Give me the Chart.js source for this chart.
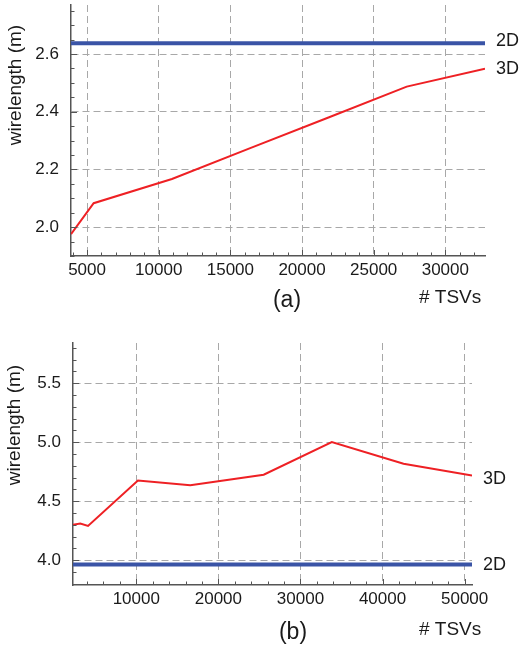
<!DOCTYPE html>
<html>
<head>
<meta charset="utf-8">
<script src="https://cdn.jsdelivr.net/npm/chart.js@4"></script>
<style>
  body { margin: 0; background: #fff; }
  canvas { display: block; }
</style>
</head>
<body>
<canvas id="chartA" width="524" height="325"></canvas>
<canvas id="chartB" width="524" height="326"></canvas>
<script>
// (a) wirelength vs number of TSVs
const tsvA = [3880, 5461, 10923, 16384, 21845, 27307, 32768];
const wl3dA = [1.976, 2.083, 2.167, 2.274, 2.380, 2.487, 2.549];
const wl2dA = 2.637;
const xTicksA = [5000, 10000, 15000, 20000, 25000, 30000];
const yTicksA = [2.0, 2.2, 2.4, 2.6];

// (b)
const tsvB = [2290, 3180, 4120, 10200, 16580, 25520, 33820, 42560, 50900];
const wl3dB = [4.30, 4.31, 4.29, 4.675, 4.636, 4.724, 5.0, 4.817, 4.718];
const wl2dB = 3.963;
const xTicksB = [10000, 20000, 30000, 40000, 50000];
const yTicksB = [4.0, 4.5, 5.0, 5.5];

const FONT = "'Liberation Sans', Arial, Helvetica, sans-serif";
const TEXT = '#1a1a1a';
const RED = '#ee2024';
const BLUE = '#3a54a6';
const AXIS = '#555';

Chart.defaults.font.family = FONT;
Chart.defaults.color = TEXT;

// draws the small inward tick marks, the axis title, caption and series labels
const decorPlugin = {
    id: 'decor',
    afterDraw(chart, args, opts) {
        const ctx = chart.ctx;
        const x = chart.scales.x;
        const y = chart.scales.y;
        const area = chart.chartArea;

        ctx.save();
        ctx.strokeStyle = AXIS;
        ctx.lineWidth = 1;
        // x ticks
        for (let v = Math.ceil(x.min / opts.xMinor) * opts.xMinor; v <= x.max; v += opts.xMinor) {
            const px = Math.round(x.getPixelForValue(v)) + 0.5;
            const len = v % opts.xMajor === 0 ? 6 : 3.5;
            ctx.beginPath();
            ctx.moveTo(px, area.bottom);
            ctx.lineTo(px, area.bottom - len);
            ctx.stroke();
        }
        // y ticks
        const start = Math.ceil(y.min / opts.yMinor - 1e-6);
        for (let i = start; i * opts.yMinor <= y.max + 1e-9; i++) {
            const v = i * opts.yMinor;
            const py = Math.round(y.getPixelForValue(v)) + 0.5;
            const isMajor = Math.abs(v / opts.yMajor - Math.round(v / opts.yMajor)) < 1e-6;
            ctx.beginPath();
            ctx.moveTo(area.left, py);
            ctx.lineTo(area.left + (isMajor ? 6 : 3.5), py);
            ctx.stroke();
        }

        ctx.fillStyle = TEXT;
        // y title
        ctx.save();
        ctx.translate(opts.titleX, opts.titleY);
        ctx.rotate(-Math.PI / 2);
        ctx.font = '19px ' + FONT;
        ctx.textAlign = 'center';
        ctx.textBaseline = 'middle';
        ctx.fillText('wirelength (m)', 0, 0);
        ctx.restore();

        // caption and x title
        ctx.textBaseline = 'middle';
        ctx.textAlign = 'center';
        ctx.font = '23px ' + FONT;
        ctx.fillText(opts.caption, opts.captionX, opts.captionY);
        ctx.textAlign = 'left';
        ctx.font = '19px ' + FONT;
        ctx.fillText('# TSVs', 419, opts.xTitleY);

        // series labels at the right end of each line
        ctx.font = '18px ' + FONT;
        chart.data.datasets.forEach(ds => {
            const last = ds.data[ds.data.length - 1];
            ctx.fillText(ds.label, area.right + 11, y.getPixelForValue(last.y) + (ds.labelDy || 0));
        });
        ctx.restore();
    }
};

function makeChart(id, cfg) {
    const pts3d = cfg.xs.map((v, i) => ({ x: v, y: cfg.ys[i] }));
    const pts2d = [{ x: cfg.xMin, y: cfg.flat }, { x: cfg.xMax, y: cfg.flat }];
    return new Chart(document.getElementById(id), {
        type: 'line',
        data: {
            datasets: [
                { label: '2D', data: pts2d, borderColor: BLUE, borderWidth: 4, pointRadius: 0, labelDy: cfg.dy2d },
                { label: '3D', data: pts3d, borderColor: RED, borderWidth: 2, pointRadius: 0, labelDy: cfg.dy3d }
            ]
        },
        options: {
            responsive: false,
            animation: false,
            layout: { padding: { top: cfg.top, right: cfg.right, left: 0, bottom: 0 } },
            plugins: {
                legend: { display: false },
                tooltip: { enabled: false },
                decor: cfg.decor
            },
            elements: { line: { tension: 0 } },
            scales: {
                x: {
                    type: 'linear',
                    min: cfg.xMin,
                    max: cfg.xMax,
                    afterBuildTicks: s => { s.ticks = cfg.xTicks.map(v => ({ value: v })); },
                    afterFit: s => {
                        s.height = cfg.xHeight;
                        s.paddingLeft = 0;
                        s.paddingRight = 0;
                    },
                    grid: { color: '#a8a8a8', lineWidth: 1, drawTicks: false },
                    border: { color: AXIS, width: 1.5, dash: [7, 4] },
                    ticks: {
                        autoSkip: false,
                        maxRotation: 0,
                        padding: 4,
                        font: { size: 17 },
                        color: TEXT,
                        callback: v => String(v)
                    }
                },
                y: {
                    type: 'linear',
                    min: cfg.yMin,
                    max: cfg.yMax,
                    afterBuildTicks: s => { s.ticks = cfg.yTicks.map(v => ({ value: v })); },
                    afterFit: s => {
                        s.width = cfg.yWidth;
                        s.paddingTop = 0;
                        s.paddingBottom = 0;
                    },
                    grid: { color: '#a8a8a8', lineWidth: 1, drawTicks: false },
                    border: { color: AXIS, width: 1.5, dash: [7, 4] },
                    ticks: {
                        autoSkip: false,
                        padding: 12,
                        font: { size: 17 },
                        color: TEXT,
                        callback: v => v.toFixed(1)
                    }
                }
            }
        },
        plugins: [decorPlugin]
    });
}

makeChart('chartA', {
    xs: tsvA, ys: wl3dA, flat: wl2dA, xTicks: xTicksA, yTicks: yTicksA,
    xMin: 3880, xMax: 32768,
    yMin: 1.9, yMax: 2.77,
    top: 5, right: 39, xHeight: 69, yWidth: 71,
    dy2d: -2, dy3d: 0,
    decor: {
        xMinor: 1000, xMajor: 5000, yMinor: 0.05, yMajor: 0.2,
        titleX: 16, titleY: 85,
        caption: '(a)', captionX: 287, captionY: 301, xTitleY: 298
    }
});

makeChart('chartB', {
    xs: tsvB, ys: wl3dB, flat: wl2dB, xTicks: xTicksB, yTicks: yTicksB,
    xMin: 2290, xMax: 50900,
    yMin: 3.79, yMax: 5.84,
    top: 18, right: 52, xHeight: 66, yWidth: 73,
    dy2d: 0, dy3d: 4,
    decor: {
        xMinor: 2000, xMajor: 10000, yMinor: 0.1, yMajor: 0.5,
        titleX: 15, titleY: 100,
        caption: '(b)', captionX: 293, captionY: 308, xTitleY: 305
    }
});
</script>
</body>
</html>
